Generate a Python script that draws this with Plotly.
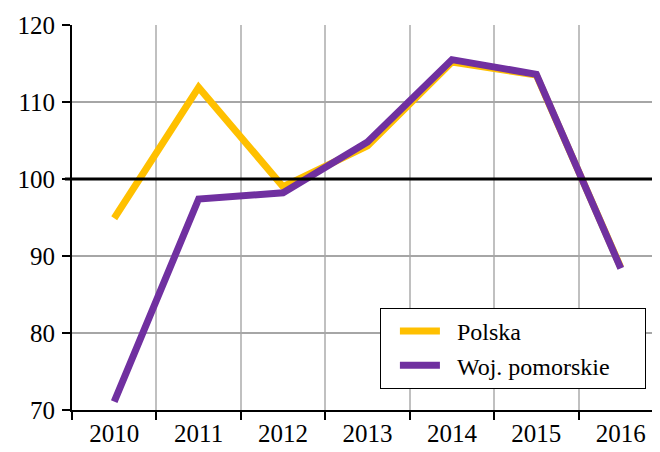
import plotly.graph_objects as go

years = ["2010", "2011", "2012", "2013", "2014", "2015", "2016"]
polska = [94.9, 111.9, 99.0, 104.3, 115.2, 113.5, 88.5]
pomorskie = [71.1, 97.4, 98.2, 104.8, 115.5, 113.6, 88.4]
y_ticks = [70, 80, 90, 100, 110, 120]
series_names = ["\u00a0\u00a0Polska", "\u00a0\u00a0Woj. pomorskie\u00a0\u00a0\u00a0\u00a0\u00a0"]

serif = "Liberation Serif, Times New Roman, serif"
font = dict(family=serif, size=25, color="black")

fig = go.Figure()
fig.add_trace(go.Scatter(x=years, y=polska, mode="lines", name=series_names[0],
                         line=dict(color="#FFC000", width=7)))
fig.add_trace(go.Scatter(x=years, y=pomorskie, mode="lines", name=series_names[1],
                         line=dict(color="#7030A0", width=7)))

fig.add_shape(type="line", xref="paper", yref="y", x0=-0.012, x1=1, y0=100, y1=100,
              line=dict(color="black", width=3))

fig.update_layout(
    width=660, height=452,
    margin=dict(l=64, r=5, t=17, b=50),
    paper_bgcolor="white", plot_bgcolor="white",
    font=font,
    showlegend=True,
    legend=dict(x=0.521, y=0.265, xanchor="left", yanchor="top",
                bordercolor="black", borderwidth=1, bgcolor="white",
                font=dict(family=serif, size=24),
                tracegroupgap=0, itemwidth=40, indentation=14),
    xaxis=dict(type="category", showline=True, linecolor="black", linewidth=2,
               ticks="outside", tickson="boundaries", ticklen=8, tickwidth=2, tickcolor="black",
               showgrid=True, gridcolor="#C0C0C0", gridwidth=2,
               range=[-0.5, 6.5]),
    yaxis=dict(range=[70, 120], tickvals=y_ticks, showline=True, linecolor="black", linewidth=2,
               ticks="outside", ticklen=8, tickwidth=2, tickcolor="black",
               showgrid=True, gridcolor="#A6A6A6", gridwidth=2, zeroline=False,
               ticklabelstandoff=2),
)

fig.write_html("out.html")
